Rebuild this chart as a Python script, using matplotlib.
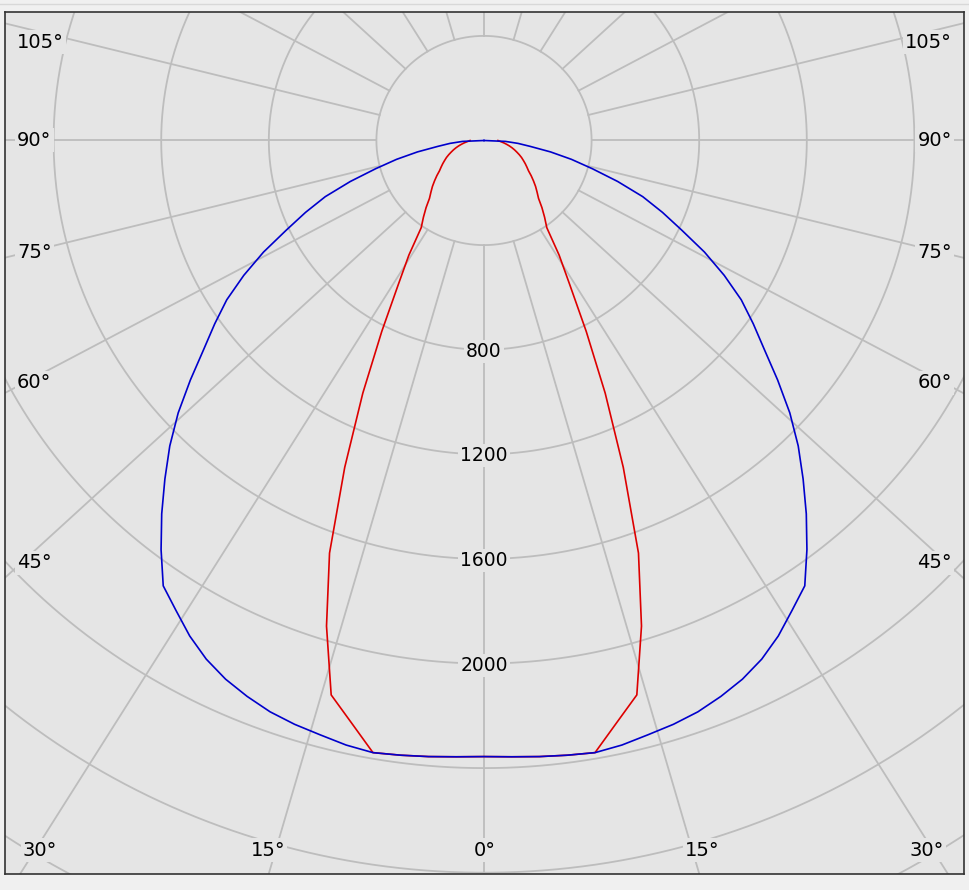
import numpy as np
import matplotlib
matplotlib.use('Agg')
import matplotlib.pyplot as plt
from matplotlib.lines import Line2D

# luminous intensity (cd), 0..90 deg, mirrored for the other side
angles = [0, 2.5, 5, 7.5, 10, 12.5, 15, 17.5, 20, 22.5, 25, 27.5, 30, 32.5, 35, 37.5,
          40, 42.5, 45, 47.5, 50, 52.5, 55, 57.5, 60, 62.5, 65, 67.5, 70, 72.5, 75,
          77.5, 80, 82.5, 85, 87.5, 90]
c0_c180 = [2356, 2359, 2365, 2371, 2377, 2368, 2353, 2341, 2325, 2301, 2273, 2236,
           2188, 2131, 2079, 1972, 1864, 1756, 1652, 1542, 1425, 1314, 1222, 1134,
           1031, 924, 811, 718, 628, 521, 417, 333, 251, 174, 127, 80, 0]
c90_c270 = [2356, 2359, 2365, 2371, 2377, 2280, 2195, 1947, 1679, 1353, 1066, 823,
            639, 520, 407, 370, 335, 300, 279, 260, 240, 221, 202, 189, 177, 165,
            154, 142, 130, 119, 108, 97, 86, 76, 66, 58, 52]

rings = [400, 800, 1200, 1600, 2000, 2400, 2800, 3200, 3600]
ring_labels = [800, 1200, 1600, 2000]
spoke_step = 15

left_labels = ['105°', '90°', '75°', '60°', '45°']
bottom_labels = ['30°', '15°', '0°', '15°', '30°']

bg = '#e5e5e5'
grid_col = '#bdbdbd'
k = 1.065  # the spokes in the original are drawn slightly flattened


def mirror(vals):
    return np.concatenate([vals[::-1], vals[1:]])


th = np.radians(np.concatenate([-np.array(angles[::-1]), angles[1:]]))

fig = plt.figure(figsize=(9.69, 8.90), dpi=100)
fig.patch.set_facecolor('#f0f0f0')
ax = fig.add_axes([5 / 969, 1 - 874 / 890, 959 / 969, 862 / 890])
ax.set_facecolor(bg)

# circles
t = np.linspace(0, 2 * np.pi, 721)
for r in rings:
    ax.plot(r * np.sin(t), r * np.cos(t), color=grid_col, lw=1.3, zorder=1)

# spokes from the first ring outwards
for a in range(0, 360, spoke_step):
    ar = np.radians(a)
    d = np.array([k * np.sin(ar), -np.cos(ar)])
    d = d / np.hypot(*d)
    ax.plot([400 * d[0], 6000 * d[0]], [400 * d[1], 6000 * d[1]],
            color=grid_col, lw=1.3, zorder=1)

for r in ring_labels:
    ax.text(0, -r - 6, str(r), ha='center', va='center', fontsize=13.5, zorder=2,
            bbox=dict(facecolor=bg, edgecolor='none', pad=1.5))

# curves
r90 = mirror(np.array(c90_c270, dtype=float))
r0 = mirror(np.array(c0_c180, dtype=float))
ax.plot(r90 * np.sin(th), -r90 * np.cos(th), color='#dd0000', lw=1.2, zorder=3)
ax.plot(r0 * np.sin(th), -r0 * np.cos(th), color='#0000cc', lw=1.2, zorder=4)

ax.set_xlim(-1780.7, 1784.4)
ax.set_ylim(-2805, 491.4)
ax.set_xticks([])
ax.set_yticks([])
for s in ax.spines.values():
    s.set_color('#333333')
    s.set_linewidth(1.2)

# angle labels (pixel positions in the figure)
side_y = [42, 140, 253, 383, 563]
for lab, y in zip(left_labels, side_y):
    fig.text(17 / 969, 1 - y / 890, lab, ha='left', va='center', fontsize=14,
             bbox=dict(facecolor=bg, edgecolor='none', pad=1.5))
    fig.text(952 / 969, 1 - y / 890, lab, ha='right', va='center', fontsize=14,
             bbox=dict(facecolor=bg, edgecolor='none', pad=1.5))

bottom_x = [40, 268, 485, 702, 927]
for lab, x in zip(bottom_labels, bottom_x):
    fig.text(x / 969, 1 - 850 / 890, lab, ha='center', va='center', fontsize=14,
             bbox=dict(facecolor=bg, edgecolor='none', pad=1.5))

fig.add_artist(Line2D([0, 1], [1 - 4 / 890, 1 - 4 / 890], color='#d8d8d8', lw=1))

fig.savefig('out.png', dpi=100, facecolor=fig.get_facecolor())
